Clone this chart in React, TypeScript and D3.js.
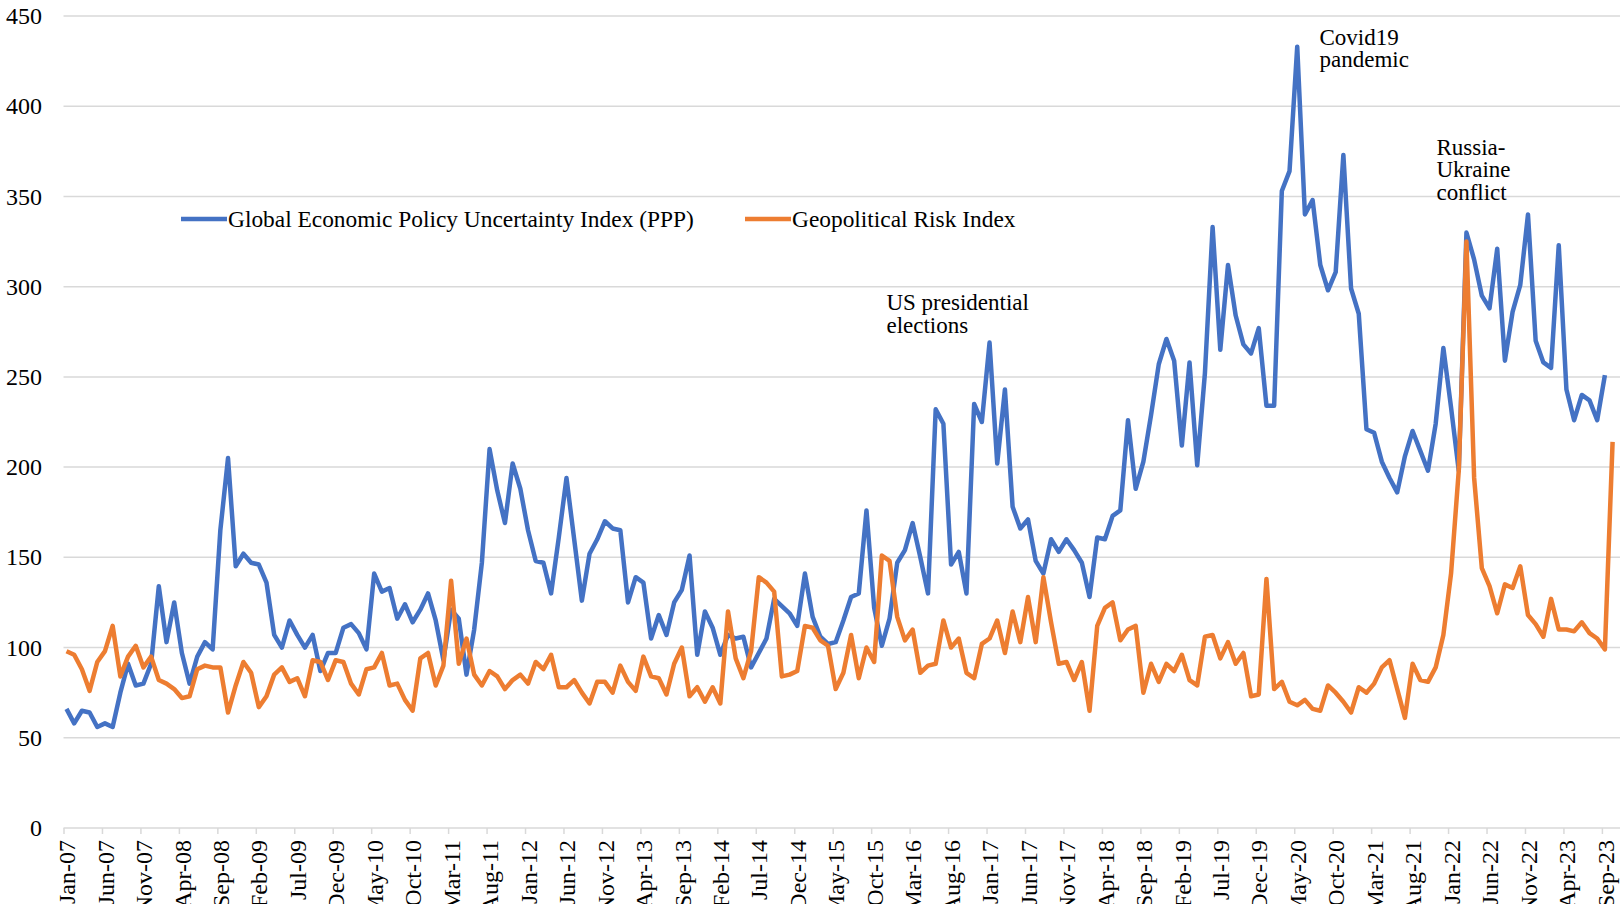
import React, { useEffect, useRef } from "react";
import * as d3 from "d3";

// monthly, Jan-07 .. Sep-23
const epuValues = [
  66, 58, 65, 64, 56, 58, 56, 75, 91, 79, 80, 91, 134, 103, 125, 97, 80, 95, 103, 99,
  165, 205, 145, 152, 147, 146, 136, 107, 100, 115, 107, 100, 107, 87, 97, 97, 111, 113, 108, 99,
  141, 131, 133, 116, 124, 114, 121, 130, 115, 93, 121, 116, 85, 110, 147, 210, 187, 169, 202, 188,
  165, 148, 147, 130, 161, 194, 160, 126, 152, 160, 170, 166, 165, 125, 139, 136, 105, 118, 107, 125,
  132, 151, 96, 120, 111, 96, 107, 105, 106, 89, 97, 105, 127, 123, 119, 112, 141, 117, 106, 102,
  103, 115, 128, 130, 176, 122, 101, 116, 147, 154, 169, 150, 130, 232, 224, 146, 153, 130, 235, 225,
  269, 202, 243, 178, 166, 171, 148, 141, 160, 153, 160, 154, 147, 128, 161, 160, 173, 176, 226, 188,
  203, 229, 257, 271, 259, 212, 258, 201, 252, 333, 265, 312, 284, 268, 263, 277, 234, 234, 353, 364,
  433, 340, 348, 312, 298, 308, 373, 299, 285, 221, 219, 203, 194, 186, 206, 220, 209, 198, 224, 266,
  233, 198, 330, 315, 295, 288, 321, 259, 286, 301, 340, 270, 258, 255, 323, 243, 226, 240, 237, 226,
  251
];

// monthly, Jan-07 .. Oct-23
const gprValues = [
  98, 96, 88, 76, 92, 98, 112, 84, 95, 101, 89, 95, 82, 80, 77, 72, 73, 88, 90, 89,
  89, 64, 79, 92, 86, 67, 73, 85, 89, 81, 83, 73, 93, 92, 82, 93, 92, 80, 74, 88,
  89, 97, 79, 80, 71, 65, 94, 97, 79, 90, 137, 91, 105, 85, 79, 87, 84, 77, 82, 85,
  80, 92, 88, 96, 78, 78, 82, 75, 69, 81, 81, 75, 90, 81, 76, 95, 84, 83, 74, 91,
  100, 73, 78, 70, 78, 69, 120, 94, 83, 98, 139, 136, 131, 84, 85, 87, 112, 111, 104, 101,
  77, 86, 107, 83, 100, 92, 151, 148, 117, 104, 110, 86, 90, 91, 115, 100, 105, 86, 83, 102,
  105, 115, 97, 120, 103, 128, 103, 139, 114, 91, 92, 82, 92, 65, 112, 122, 125, 104, 110, 112,
  75, 91, 81, 91, 87, 96, 82, 79, 106, 107, 94, 103, 91, 97, 73, 74, 138, 77, 81, 70,
  68, 71, 66, 65, 79, 75, 70, 64, 78, 75, 80, 89, 93, 77, 61, 91, 82, 81, 89, 107,
  141, 198, 325, 194, 144, 134, 119, 135, 133, 145, 118, 113, 106, 127, 110, 110, 109, 114, 108, 105,
  99, 214
];

const tickLabels = [
  "Jan-07", "Jun-07", "Nov-07", "Apr-08", "Sep-08", "Feb-09", "Jul-09", "Dec-09", "May-10", "Oct-10",
  "Mar-11", "Aug-11", "Jan-12", "Jun-12", "Nov-12", "Apr-13", "Sep-13", "Feb-14", "Jul-14", "Dec-14",
  "May-15", "Oct-15", "Mar-16", "Aug-16", "Jan-17", "Jun-17", "Nov-17", "Apr-18", "Sep-18", "Feb-19",
  "Jul-19", "Dec-19", "May-20", "Oct-20", "Mar-21", "Aug-21", "Jan-22", "Jun-22", "Nov-22", "Apr-23",
  "Sep-23"
];
const tickStep = 5;

const yTicks = [0, 50, 100, 150, 200, 250, 300, 350, 400, 450];

const seriesNames = ["Global Economic Policy Uncertainty Index (PPP)", "Geopolitical Risk Index"];

// annotation text, anchored at [month index, value]
const notes = [
  { lines: ["US presidential", "elections"], at: [106.6, 287] },
  { lines: ["Covid19", "pandemic"], at: [162.9, 434] },
  { lines: ["Russia-", "Ukraine", "conflict"], at: [178.1, 373] }
];

const BLUE = "#4472C4";
const ORANGE = "#ED7D31";
const GRID = "#D9D9D9";
const FONT = "'Liberation Serif', 'Times New Roman', serif";

export default function App() {
  const ref = useRef<SVGSVGElement | null>(null);

  useEffect(() => {
    const svg = d3.select(ref.current);
    svg.selectAll("*").remove();

    const x = d3.scaleLinear().domain([0, 200]).range([66.5, 1604.9]);
    const y = d3.scaleLinear().domain([0, 450]).range([828, 16]);
    const gridLeft = 63.5;
    const gridRight = 1620;

    // gridlines
    svg.append("g")
      .selectAll("line")
      .data(yTicks)
      .join("line")
      .attr("x1", gridLeft)
      .attr("x2", gridRight)
      .attr("y1", d => y(d))
      .attr("y2", d => y(d))
      .attr("stroke", GRID)
      .attr("stroke-width", 1.5);

    // y labels
    svg.append("g")
      .selectAll("text")
      .data(yTicks)
      .join("text")
      .attr("x", 42)
      .attr("y", d => y(d))
      .attr("dy", "0.34em")
      .attr("text-anchor", "end")
      .style("font-family", FONT)
      .style("font-size", "24px")
      .style("fill", "#000")
      .text(d => d);

    // x ticks + labels (Excel draws the tick a little left of the point)
    const ticks = tickLabels.map((t, i) => ({ t, m: i * tickStep }));
    svg.append("g")
      .selectAll("line")
      .data(ticks)
      .join("line")
      .attr("x1", d => x(d.m) - 2.5)
      .attr("x2", d => x(d.m) - 2.5)
      .attr("y1", y(0))
      .attr("y2", y(0) + 6)
      .attr("stroke", GRID)
      .attr("stroke-width", 1.5);

    svg.append("g")
      .selectAll("text")
      .data(ticks)
      .join("text")
      .attr("transform", d => `translate(${x(d.m) + 0.5},${y(0) + 12}) rotate(-90)`)
      .attr("dy", "0.34em")
      .attr("text-anchor", "end")
      .style("font-family", FONT)
      .style("font-size", "24px")
      .style("fill", "#000")
      .text(d => d.t);

    const line = d3.line<number>()
      .x((_, i) => x(i))
      .y(d => y(d));

    svg.append("path")
      .datum(epuValues)
      .attr("fill", "none")
      .attr("stroke", BLUE)
      .attr("stroke-width", 4.5)
      .attr("stroke-linejoin", "round")
      .attr("d", line);

    svg.append("path")
      .datum(gprValues)
      .attr("fill", "none")
      .attr("stroke", ORANGE)
      .attr("stroke-width", 4.5)
      .attr("stroke-linejoin", "round")
      .attr("d", line);

    // legend
    const legend = [
      { name: seriesNames[0], color: BLUE, x0: 181 },
      { name: seriesNames[1], color: ORANGE, x0: 745 }
    ];
    const ly = 219;
    const lg = svg.append("g");
    legend.forEach(l => {
      lg.append("line")
        .attr("x1", l.x0)
        .attr("x2", l.x0 + 46)
        .attr("y1", ly)
        .attr("y2", ly)
        .attr("stroke", l.color)
        .attr("stroke-width", 4.5);
      lg.append("text")
        .attr("x", l.x0 + 47)
        .attr("y", ly)
        .attr("dy", "0.34em")
        .style("font-family", FONT)
        .style("font-size", "23.4px")
        .style("fill", "#000")
        .text(l.name);
    });

    // annotations
    notes.forEach(n => {
      const t = svg.append("text")
        .attr("x", x(n.at[0]))
        .attr("y", y(n.at[1]))
        .style("font-family", FONT)
        .style("font-size", "23px")
        .style("fill", "#000");
      n.lines.forEach((s, i) => {
        t.append("tspan")
          .attr("x", x(n.at[0]))
          .attr("dy", i === 0 ? 0 : 22.5)
          .text(s);
      });
    });
  }, []);

  return (
    <svg
      ref={ref}
      width={1623}
      height={904}
      style={{ position: "absolute", left: 0, top: 0, background: "#fff" }}
    />
  );
}
